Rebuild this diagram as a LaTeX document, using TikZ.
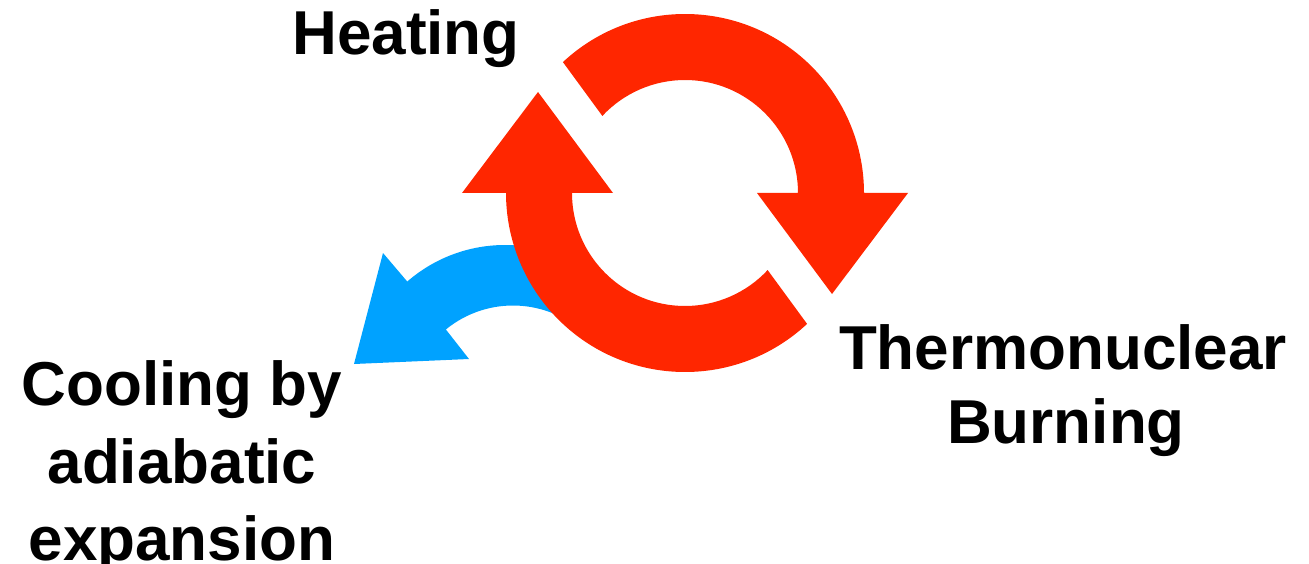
\documentclass[tikz,border=0pt]{standalone}
\usepackage{fontspec}
\setmainfont{Liberation Sans}
\definecolor{ringred}{RGB}{255,38,0}
\definecolor{coolblue}{RGB}{0,162,255}
\tikzset{bigtext/.style={font=\fontsize{62}{75}\selectfont\bfseries, inner sep=0pt}}

\begin{document}
\begin{tikzpicture}[x=1pt,y=1pt]
\useasboundingbox (0,0) rectangle (1309,-564);
\coordinate (ring) at (685,-193);
\coordinate (bout) at (505,-394);
\coordinate (bin) at (513,-411.5);

\fill [coolblue] ([shift={(45:149pt)}]bout) arc [start angle=45, end angle=131, radius=149pt] -- (383,-253) -- (354,-364) -- (469,-359) -- ([shift={(129.3:106pt)}]bin) arc [start angle=129.3, end angle=45, radius=106pt] -- cycle;

\fill [ringred] ([shift={(133:179pt)}]ring) arc [start angle=133, end angle=0, radius=179pt] -- ([xshift=223pt]ring) -- ([xshift=147pt,yshift=-101pt]ring) -- ([xshift=72pt]ring) -- ([xshift=113pt]ring) arc [start angle=0, end angle=137, radius=113pt] -- cycle;
\fill [ringred] ([shift={(-47:179pt)}]ring) arc [start angle=-47, end angle=-180, radius=179pt] -- ([xshift=-223pt]ring) -- ([xshift=-147pt,yshift=101pt]ring) -- ([xshift=-72pt]ring) -- ([xshift=-113pt]ring) arc [start angle=180, end angle=317, radius=113pt] -- cycle;

\node [bigtext, anchor=base] (heating) at (406,-55) {Heating};
\node [bigtext, anchor=base] (thermo) at (1063,-369) {Thermonuclear};
\node [bigtext, anchor=base] (burning) at ([xshift=3pt,yshift=-74pt]thermo.base) {Burning};

\node [bigtext, anchor=base] (cooling) at (182,-405) {Cooling by};
\node [bigtext, anchor=base] (adiabatic) at ([yshift=-78pt]cooling.base) {adiabatic};
\node [bigtext, anchor=base] (expansion) at ([yshift=-77pt]adiabatic.base) {expansion};
\end{tikzpicture}
\end{document}
